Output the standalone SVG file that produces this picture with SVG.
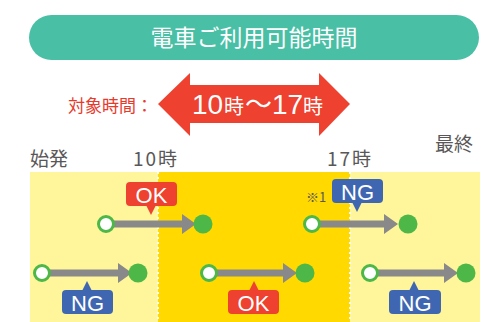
<svg xmlns="http://www.w3.org/2000/svg" width="499" height="322" viewBox="0 0 499 322">
<defs>
<style>
.jp{font-family:"Noto Sans CJK JP","Noto Sans",sans-serif}
.lat{font-family:"Liberation Sans","Noto Sans CJK JP",sans-serif}
.hdr{fill:#595757;font-size:19px}
.shaft{fill:#898989}
.open{fill:#fff;stroke:#4db848;stroke-width:3}
.full{fill:#4db848}
.tagT{fill:#fff;font-size:22px;text-anchor:middle}
.div{stroke:#fff;stroke-width:2;stroke-dasharray:2 3}
</style>
</defs>
<rect width="499" height="322" fill="#fff"/>
<g id="title">
<rect x="29" y="15" width="450" height="45" rx="22.5" fill="#49bfa5"/>
<text x="254" y="46" class="jp" font-size="23" fill="#fff" text-anchor="middle">電車ご利用可能時間</text>
</g>
<g id="target">
<text x="68" y="112" class="jp" font-size="17" fill="#e8392b">対象時間：</text>
<polygon points="158,104 190,73 190,85 319,85 319,73 350,104 319,136 319,123 190,123 190,136" fill="#ee4130"/>
<text y="114" fill="#fff"><tspan x="192" class="lat" font-size="28">10</tspan><tspan x="224" class="jp" font-size="20">時</tspan><tspan x="245" class="jp" font-size="27">～</tspan><tspan x="272" class="lat" font-size="28">17</tspan><tspan x="303" class="jp" font-size="20">時</tspan></text>
</g>
<g id="timeline">
<rect x="30" y="172" width="128" height="150" fill="#fff59a"/>
<rect x="158" y="172" width="192" height="150" fill="#ffd900"/>
<rect x="350" y="172" width="130" height="150" fill="#fff59a"/>
<line x1="158" y1="172" x2="158" y2="322" class="div"/>
<line x1="350" y1="172" x2="350" y2="322" class="div"/>
<text x="30" y="166" class="jp hdr">始発</text>
<text x="133" y="166" class="jp hdr" letter-spacing="2">10時</text>
<text x="327" y="166" class="jp hdr" letter-spacing="2">17時</text>
<text x="435" y="151" class="jp hdr">最終</text>
</g>
<g id="connectors">
<polygon points="112,220.5 182,220.5 182,214 196,224 182,234 182,227.5 112,227.5" class="shaft"/>
<polygon points="48,269.5 118,269.5 118,263 132,273 118,283 118,276.5 48,276.5" class="shaft"/>
<polygon points="215,269.5 283,269.5 283,263 297,273 283,283 283,276.5 215,276.5" class="shaft"/>
<polygon points="318,220.5 384,220.5 384,214 398,224 384,234 384,227.5 318,227.5" class="shaft"/>
<polygon points="376,269.5 444,269.5 444,263 458,273 444,283 444,276.5 376,276.5" class="shaft"/>
</g>
<g id="trip1">
<circle cx="106" cy="224" r="7.5" class="open"/>
<circle cx="203" cy="224" r="9.5" class="full"/>
</g>
<g id="trip2">
<circle cx="42" cy="273" r="7.5" class="open"/>
<circle cx="138" cy="273" r="9.5" class="full"/>
</g>
<g id="trip3">
<circle cx="209" cy="273" r="7.5" class="open"/>
<circle cx="305" cy="273" r="9.5" class="full"/>
</g>
<g id="trip4">
<circle cx="312" cy="224" r="7.5" class="open"/>
<circle cx="408" cy="224" r="9.5" class="full"/>
</g>
<g id="trip5">
<circle cx="370" cy="273" r="7.5" class="open"/>
<circle cx="466" cy="273" r="9.5" class="full"/>
</g>
<g id="tag-ok1">
<rect x="126" y="182" width="51" height="24" rx="4" fill="#ee4130"/>
<polygon points="146,205 156,205 151,215" fill="#ee4130"/>
<text x="151.5" y="202.5" class="lat tagT">OK</text>
</g>
<g id="tag-ng1">
<rect x="62" y="290" width="51" height="24" rx="4" fill="#3f67b1"/>
<polygon points="82,291 92,291 87,281" fill="#3f67b1"/>
<text x="87.5" y="310.5" class="lat tagT">NG</text>
</g>
<g id="tag-ok2">
<rect x="228" y="290" width="51" height="24" rx="4" fill="#ee4130"/>
<polygon points="249,291 259,291 254,281" fill="#ee4130"/>
<text x="253.5" y="310.5" class="lat tagT">OK</text>
</g>
<g id="tag-ng2">
<rect x="332" y="179" width="51" height="24" rx="4" fill="#3f67b1"/>
<polygon points="352,202 362,202 357,212" fill="#3f67b1"/>
<text x="357.5" y="199.5" class="lat tagT">NG</text>
<text x="306" y="202" class="jp" font-size="13" fill="#595757">※1</text>
</g>
<g id="tag-ng3">
<rect x="389" y="290" width="52" height="24" rx="4" fill="#3f67b1"/>
<polygon points="409,291 419,291 414,281" fill="#3f67b1"/>
<text x="415" y="310.5" class="lat tagT">NG</text>
</g>
</svg>
